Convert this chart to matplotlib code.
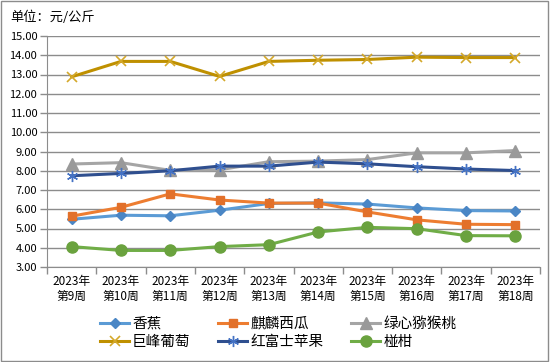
import matplotlib
matplotlib.use("Agg")
import matplotlib.pyplot as plt
from matplotlib.ticker import FixedLocator, FormatStrFormatter

plt.rcParams['font.family'] = ['Noto Sans CJK SC', 'DejaVu Sans']

weeks = ["2023年\n第9周", "2023年\n第10周", "2023年\n第11周", "2023年\n第12周", "2023年\n第13周",
         "2023年\n第14周", "2023年\n第15周", "2023年\n第16周", "2023年\n第17周", "2023年\n第18周"]

banana = [5.48, 5.69, 5.66, 5.95, 6.30, 6.33, 6.27, 6.07, 5.93, 5.91]
watermelon = [5.64, 6.10, 6.80, 6.48, 6.32, 6.32, 5.86, 5.45, 5.22, 5.20]
kiwi = [8.35, 8.42, 8.02, 8.05, 8.47, 8.50, 8.58, 8.93, 8.93, 9.05]
grape = [12.88, 13.68, 13.68, 12.90, 13.68, 13.74, 13.78, 13.90, 13.88, 13.88]
apple = [7.74, 7.86, 8.00, 8.24, 8.24, 8.45, 8.36, 8.21, 8.09, 8.01]
citrus = [4.06, 3.86, 3.86, 4.06, 4.16, 4.82, 5.06, 4.99, 4.63, 4.62]

fig = plt.figure(figsize=(5.5, 3.62), dpi=100)
# outer border
fig.patches.append(plt.Rectangle((0.002, 0.003), 0.995, 0.994, transform=fig.transFigure,
                                 fill=False, edgecolor='#8c8c8c', linewidth=1.0))

ax = fig.add_axes([47 / 550, (362 - 267) / 362, (540 - 47) / 550, (267 - 36) / 362])
x = list(range(len(weeks)))

ax.plot(x, banana, color='#5B9BD5', lw=2.2, marker='D', ms=5.5, mfc='#4A86C5', mec='#4A86C5', label='香蕉')
ax.plot(x, watermelon, color='#ED7D31', lw=2.2, marker='s', ms=6, mfc='#E2702A', mec='#E2702A', label='麒麟西瓜')
ax.plot(x, kiwi, color='#A5A5A5', lw=2.2, marker='^', ms=8, mfc='#999999', mec='#999999', label='绿心猕猴桃')
ax.plot(x, grape, color='#BF9000', lw=2.2, marker='x', ms=7, mew=1.2, mec='#D4A82A', label='巨峰葡萄')
ax.plot(x, apple, color='#2F4F8F', lw=2.2, marker=(6, 2, 0), ms=8, mew=1.0, mec='#4472C4', label='红富士苹果')
ax.plot(x, citrus, color='#70AD47', lw=2.2, marker='o', ms=8, mfc='#6AA23E', mec='#6AA23E', label='椪柑')

ax.set_xlim(-0.5, len(weeks) - 0.5)
ax.set_ylim(3, 15)
ax.set_yticks([3 + i for i in range(13)])
ax.yaxis.set_major_formatter(FormatStrFormatter('%.2f'))
ax.grid(axis='y', color='#8c8c8c', lw=1.0)
ax.set_axisbelow(True)

ax.set_xticks(x)
ax.set_xticklabels(weeks, fontsize=8.5, linespacing=1.15)
ax.xaxis.set_minor_locator(FixedLocator([i - 0.5 for i in range(len(weeks) + 1)]))
ax.tick_params(axis='x', which='major', length=0, pad=6)
ax.tick_params(axis='x', which='minor', length=5, color='#8c8c8c', width=1.0)
ax.tick_params(axis='y', length=5, color='#8c8c8c', width=1.0, labelsize=8, pad=2)

for s in ['top', 'right']:
    ax.spines[s].set_visible(False)
ax.spines['left'].set_color('#8c8c8c')
ax.spines['bottom'].set_color('#8c8c8c')

fig.text(10 / 550, 1 - 17 / 362, '单位：元/公斤', fontsize=9.5, va='center', ha='left')

# legend is filled row by row in the reference
h, l = ax.get_legend_handles_labels()
order = [0, 3, 1, 4, 2, 5]
fig.legend([h[i] for i in order], [l[i] for i in order], loc='center left',
           bbox_to_anchor=(100 / 550, 1 - 333 / 362), ncol=3, frameon=False,
           fontsize=10.5, handlelength=2.0, columnspacing=1.9, handletextpad=0.2,
           labelspacing=0.3, borderpad=0, borderaxespad=0)

fig.savefig('out.png', dpi=100)
